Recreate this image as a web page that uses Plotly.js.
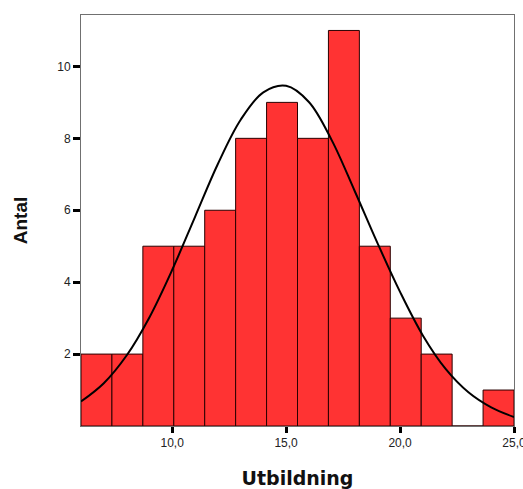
<!DOCTYPE html>
<html>
<head>
<meta charset="utf-8">
<script src="https://cdn.plot.ly/plotly-3.0.1.min.js"></script>
<style>html,body{margin:0;padding:0;background:#fff;}#chart{width:523px;height:489px;}</style>
</head>
<body>
<div id="chart"></div>
<script>
// Histogram bins (Utbildning)
const binStart = 6.0;
const binEnd = 25.0;
const counts = [2, 2, 5, 5, 6, 8, 9, 8, 11, 5, 3, 2, 0, 1];

// Fitted normal curve, heights at whole x values
const curveX = [6, 7, 8, 9, 10, 11, 12, 13, 14, 15, 16, 17, 18, 19, 20, 21, 22, 23, 24, 25];
const curveY = [0.68, 1.19, 1.96, 3.02, 4.34, 5.81, 7.28, 8.51, 9.28, 9.46, 9.01, 7.95, 6.55, 5.10, 3.73, 2.52, 1.59, 0.94, 0.52, 0.25];

const xTicks = [10, 15, 20, 25];
const yTicks = [2, 4, 6, 8, 10];

const binWidth = (binEnd - binStart) / counts.length;
const centers = counts.map((c, i) => binStart + (i + 0.5) * binWidth);

const bars = {
  type: 'bar',
  x: centers,
  y: counts,
  width: binWidth,
  marker: { color: '#ff3333', line: { color: '#2a0000', width: 1 } },
  hoverinfo: 'x+y'
};
const curve = {
  type: 'scatter',
  mode: 'lines',
  x: curveX,
  y: curveY,
  line: { color: '#000', width: 2, shape: 'spline', smoothing: 1 },
  hoverinfo: 'skip'
};

const layout = {
  width: 523, height: 489,
  margin: { l: 81, r: 9, t: 15, b: 63, pad: 0 },
  paper_bgcolor: '#fff', plot_bgcolor: '#fff',
  separators: ',.',
  showlegend: false,
  bargap: 0,
  font: { family: 'Liberation Sans, Arial, sans-serif', color: '#222', size: 12 },
  xaxis: {
    range: [binStart, binEnd],
    tickvals: xTicks,
    tickformat: '.1f',
    ticklabeloverflow: 'allow',
    ticks: 'outside', ticklen: 6, tickwidth: 3, tickcolor: '#000',
    showgrid: false, zeroline: false,
    showline: true, linecolor: '#707070', linewidth: 1, mirror: true,
    tickfont: { size: 12, color: '#222' },
    title: { text: '<b>Utbildning</b>', font: { family: 'DejaVu Sans, sans-serif', size: 19, color: '#111' }, standoff: 24 }
  },
  yaxis: {
    range: [0, 11.43],
    tickvals: yTicks,
    ticks: 'outside', ticklen: 7, tickwidth: 3, tickcolor: '#000',
    showgrid: false, zeroline: false,
    showline: true, linecolor: '#707070', linewidth: 1, mirror: true,
    tickfont: { size: 12, color: '#222' },
    title: { text: '<b>Antal</b>', font: { size: 19, color: '#111' }, standoff: 24 }
  }
};

Plotly.newPlot('chart', [bars, curve], layout, { displayModeBar: false, staticPlot: true });
</script>
</body>
</html>
